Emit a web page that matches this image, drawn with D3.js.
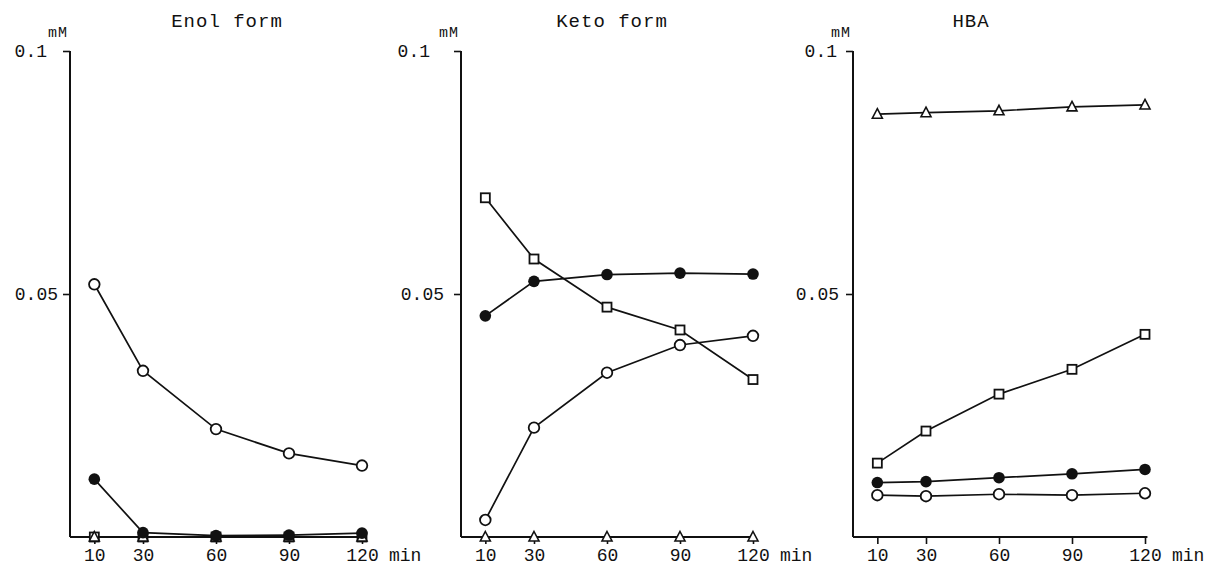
<!DOCTYPE html>
<html>
<head>
<meta charset="utf-8">
<script src="https://cdn.jsdelivr.net/npm/d3@7"></script>
<style>
  html, body { margin: 0; padding: 0; background: #fff; }
  svg text { font-family: "Liberation Mono", "DejaVu Sans Mono", monospace; fill: #111; }
</style>
</head>
<body>
<svg id="chart" width="1224" height="565"></svg>
<script>
/* Three panels: Enol form, Keto form, HBA (mM vs min). */

const times = [10, 30, 60, 90, 120];
const xTicks = [10, 30, 60, 90, 120];
const yTicks = [0.05, 0.1];
const panelTitles = ["Enol form", "Keto form", "HBA"];

// Enol form
const enolOpenCircle   = [0.0520, 0.0342, 0.0222, 0.0172, 0.0147];
const enolFilledCircle = [0.0119, 0.0009, 0.0003, 0.0004, 0.0008];
const enolSquare       = [0.0000, 0.0000, 0.0000, 0.0000, 0.0000];
const enolTriangle     = [0.0000, 0.0000, 0.0000, 0.0000, 0.0000];

// Keto form
const ketoOpenCircle   = [0.0035, 0.0225, 0.0338, 0.0395, 0.0414];
const ketoFilledCircle = [0.0455, 0.0526, 0.0540, 0.0543, 0.0541];
const ketoSquare       = [0.0698, 0.0572, 0.0473, 0.0426, 0.0324];
const ketoTriangle     = [0.0000, 0.0000, 0.0000, 0.0000, 0.0000];

// HBA
const hbaOpenCircle    = [0.0086, 0.0084, 0.0088, 0.0086, 0.0090];
const hbaFilledCircle  = [0.0112, 0.0114, 0.0122, 0.0130, 0.0139];
const hbaSquare        = [0.0152, 0.0218, 0.0294, 0.0345, 0.0417];
const hbaTriangle      = [0.0870, 0.0873, 0.0877, 0.0885, 0.0889];

const panels = [
  { title: panelTitles[0], series: { square: enolSquare, triangle: enolTriangle, filled: enolFilledCircle, open: enolOpenCircle } },
  { title: panelTitles[1], series: { square: ketoSquare, triangle: ketoTriangle, filled: ketoFilledCircle, open: ketoOpenCircle } },
  { title: panelTitles[2], series: { square: hbaSquare, triangle: hbaTriangle, filled: hbaFilledCircle, open: hbaOpenCircle } }
];

/* ---------- LAYOUT ---------- */

const panelLeft = [70, 461, 853];   // x of each y axis
const titleShift = [11, 5, -28];    // titles are not quite centred
const plotW = 292;                   // 0..120 min
const yTop = 51, yBottom = 537;
const yLabelGap = [
  { p01: 23, p005: 12 },
  { p01: 31, p005: 17 },
  { p01: 16, p005: 14 }
];

const svg = d3.select("#chart");
const ink = "#111";

panels.forEach(function (panel, i) {
  const left = panelLeft[i];
  const x = d3.scaleLinear().domain([0, 120]).range([left, left + plotW]);
  const y = d3.scaleLinear().domain([0, 0.1]).range([yBottom, yTop]);
  const g = svg.append("g");

  /* title */
  g.append("text")
    .attr("x", x(60) + titleShift[i])
    .attr("y", 27)
    .attr("text-anchor", "middle")
    .attr("font-size", 19)
    .attr("letter-spacing", 1)
    .text(panel.title);

  /* mM unit */
  g.append("text")
    .attr("x", left - 12)
    .attr("y", 37)
    .attr("text-anchor", "middle")
    .attr("font-size", 15)
    .attr("letter-spacing", 1)
    .text("mM");

  /* y axis */
  const yAxis = g.append("g")
    .attr("transform", "translate(" + left + ",0)")
    .call(d3.axisLeft(y).tickValues(yTicks).tickSize(7).tickSizeOuter(0)
      .tickFormat(function (d) { return d === 0.1 ? "0.1" : "0.05"; }));
  yAxis.select(".domain").remove();
  yAxis.selectAll("line").attr("stroke", ink).attr("stroke-width", 1.6);
  yAxis.selectAll("text")
    .attr("font-size", 18)
    .attr("fill", ink)
    .attr("x", function (d) { return -(d === 0.1 ? yLabelGap[i].p01 : yLabelGap[i].p005); });
  g.append("line")
    .attr("x1", left).attr("x2", left)
    .attr("y1", y(0.1)).attr("y2", y(0))
    .attr("stroke", ink).attr("stroke-width", 2);

  /* x axis */
  const xAxis = g.append("g")
    .attr("transform", "translate(0," + yBottom + ")")
    .call(d3.axisBottom(x).tickValues(xTicks).tickSize(7).tickPadding(4));
  xAxis.select(".domain").remove();
  xAxis.selectAll("line").attr("stroke", ink).attr("stroke-width", 1.6);
  xAxis.selectAll("text")
    .attr("font-size", 18)
    .attr("fill", ink);
  g.append("line")
    .attr("x1", x(0)).attr("x2", x(121))
    .attr("y1", y(0)).attr("y2", y(0))
    .attr("stroke", ink).attr("stroke-width", 2);

  g.append("text")
    .attr("x", x(120) + 27)
    .attr("y", yBottom + 24)
    .attr("font-size", 18)
    .text("min");

  /* lines */
  const line = d3.line()
    .x(function (d) { return x(d[0]); })
    .y(function (d) { return y(d[1]); });

  ["square", "triangle", "filled", "open"].forEach(function (key) {
    const pts = times.map(function (t, k) { return [t, panel.series[key][k]]; });
    g.append("path")
      .datum(pts)
      .attr("d", line)
      .attr("fill", "none")
      .attr("stroke", ink)
      .attr("stroke-width", 1.7);
  });

  /* markers */
  ["square", "triangle", "filled", "open"].forEach(function (key) {
    const pts = times.map(function (t, k) { return [t, panel.series[key][k]]; });
    const sel = g.append("g").selectAll("g")
      .data(pts).enter().append("g")
      .attr("transform", function (d) { return "translate(" + x(d[0]) + "," + y(d[1]) + ")"; });
    if (key === "square") {
      sel.append("rect")
        .attr("x", -4.5).attr("y", -4.5).attr("width", 9).attr("height", 9)
        .attr("fill", "#fff").attr("stroke", ink).attr("stroke-width", 1.8);
    } else if (key === "triangle") {
      sel.append("path")
        .attr("d", "M0,-5.5L5,4L-5,4Z")
        .attr("fill", "#fff").attr("stroke", ink).attr("stroke-width", 1.6);
    } else if (key === "filled") {
      sel.append("circle").attr("r", 5.8).attr("fill", ink);
    } else {
      sel.append("circle").attr("r", 5.3)
        .attr("fill", "#fff").attr("stroke", ink).attr("stroke-width", 1.8);
    }
  });
});
</script>
</body>
</html>
